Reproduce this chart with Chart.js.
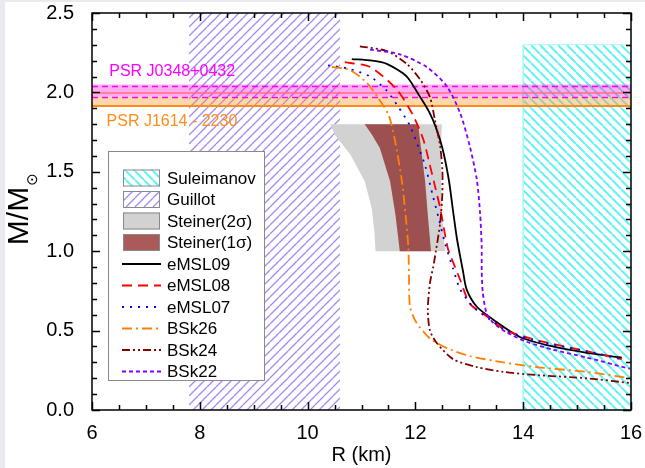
<!DOCTYPE html>
<html>
<head>
<meta charset="utf-8">
<script src="https://cdn.jsdelivr.net/npm/chart.js@4.4.0/dist/chart.umd.min.js"></script>
<style>
html,body{margin:0;padding:0;background:#fff;}
</style>
</head>
<body>
<canvas id="c" width="645" height="468" style="width:645px;height:468px;display:block"></canvas>
<script>
// mass-radius curves, R in km, M in solar masses
const eMSL09R=[10.82,11.2,11.47,11.84,12.09,12.25,12.38,12.5,12.62,12.7,12.77,12.84,12.88,12.95,13.14,13.44,13.94,14.55,15.18,15.83];
const eMSL09M=[2.21,2.20,2.18,2.10,1.97,1.88,1.78,1.65,1.45,1.25,1.08,0.95,0.88,0.76,0.65,0.57,0.46,0.40,0.36,0.33];

const eMSL08R=[10.69,11.16,11.65,11.95,12.15,12.27,12.37,12.46,12.6,12.7,12.83,13.01,13.32,13.69,14.25,15.18,15.83];
const eMSL08M=[2.19,2.16,2.02,1.86,1.70,1.54,1.40,1.27,1.02,0.93,0.82,0.67,0.59,0.50,0.44,0.37,0.32];

const eMSL07R=[10.38,10.75,11.16,11.47,11.68,11.9,12.05,12.18,12.33,12.43,12.55,12.7,12.83,13.07,13.38,13.69,14.18,15.18,15.83];
const eMSL07M=[2.17,2.15,2.10,2.01,1.91,1.79,1.66,1.54,1.34,1.21,1.05,0.89,0.76,0.65,0.57,0.50,0.44,0.37,0.32];

const BSk26R=[10.45,10.79,11.1,11.3,11.5,11.62,11.75,11.82,11.87,11.88,11.9,12.02,12.27,12.58,13.01,13.63,14.25,15.18,16.0];
const BSk26M=[2.16,2.14,2.06,1.97,1.86,1.70,1.44,1.22,1.02,0.85,0.65,0.55,0.45,0.39,0.34,0.30,0.27,0.24,0.20];

const BSk24R=[10.97,11.47,11.84,12.09,12.27,12.36,12.46,12.5,12.5,12.46,12.38,12.33,12.27,12.23,12.27,12.4,12.7,13.14,13.63,14.25,15.18,15.98];
const BSk24M=[2.29,2.26,2.18,2.08,1.97,1.83,1.66,1.51,1.36,1.18,1.0,0.90,0.80,0.63,0.50,0.42,0.32,0.27,0.24,0.22,0.20,0.17];

const BSk22R=[11.16,11.71,12.21,12.58,12.83,13.01,13.14,13.2,13.23,13.23,13.25,13.32,13.44,13.69,14.06,14.55,15.18,15.98];
const BSk22M=[2.27,2.24,2.16,2.04,1.87,1.66,1.45,1.24,1.03,0.88,0.74,0.61,0.55,0.49,0.43,0.38,0.33,0.26];

// constraint regions
const guillotR=[7.8,10.6,10.6,7.8,7.8];
const guillotM=[0,0,2.5,2.5,0];
const suleimanovR=[14,16,16,14,14];
const suleimanovM=[0,0,2.3,2.3,0];
const steiner2R=[10.42,12.49,12.47,12.5,12.55,11.26,11.24,11.19,11.06,10.79,10.51,10.42];
const steiner2M=[1.80,1.80,1.56,1.2,1.0,1.0,1.12,1.27,1.44,1.61,1.73,1.80];
const steiner1R=[11.06,12.05,12.18,12.23,12.29,11.71,11.63,11.53,11.34,11.2,11.06];
const steiner1M=[1.80,1.80,1.44,1.23,1.0,1.0,1.23,1.44,1.65,1.73,1.80];

// pulsar mass bands
const j0348Band=[1.975,2.05];
const j0348Dash=[1.968,2.037];
const j0348Line=1.996;
const j1614Band=[1.92,1.975];
const j1614Line=1.915;

const xRange=[6,16];
const yRange=[0,2.5];

const FONT="'Liberation Sans', Arial, sans-serif";

function pts(rs,ms){return rs.map((r,i)=>({x:r,y:ms[i]}));}
function hline(m){return [{x:xRange[0],y:m},{x:xRange[1],y:m}];}
function band(lo,hi){return [{x:xRange[0],y:lo},{x:xRange[1],y:lo},{x:xRange[1],y:hi},{x:xRange[0],y:hi},{x:xRange[0],y:lo}];}

const canvas=document.getElementById('c');
const ctx=canvas.getContext('2d');

function hatch(color,dir,size,lw){
const t=document.createElement('canvas');
t.width=size;t.height=size;
const g=t.getContext('2d');
g.strokeStyle=color;g.lineWidth=lw;
g.beginPath();
for(const o of [-size,0,size]){
if(dir==='/'){g.moveTo(o,size);g.lineTo(o+size,0);}
else{g.moveTo(o,0);g.lineTo(o+size,size);}
}
g.stroke();
return ctx.createPattern(t,'repeat');
}

const guillotPat=hatch('#a588f2','/',9,1.3);
const suleimanovPat=hatch('#66f2f2','\\',9,2);

const curves=[
{label:'eMSL09',r:eMSL09R,m:eMSL09M,color:'#000000',dash:[]},
{label:'eMSL08',r:eMSL08R,m:eMSL08M,color:'#ff0000',dash:[10,6]},
{label:'eMSL07',r:eMSL07R,m:eMSL07M,color:'#0000ff',dash:[2,6]},
{label:'BSk26',r:BSk26R,m:BSk26M,color:'#ff8000',dash:[10,4,2,4]},
{label:'BSk24',r:BSk24R,m:BSk24M,color:'#800000',dash:[8,3,2,3,2,3]},
{label:'BSk22',r:BSk22R,m:BSk22M,color:'#8000ff',dash:[4,3]}
];

const datasets=[];
datasets.push({label:'Guillot',data:pts(guillotR,guillotM),backgroundColor:guillotPat,borderWidth:0,borderColor:'rgba(0,0,0,0)',fill:'shape',order:20});
datasets.push({label:'Suleimanov',data:pts(suleimanovR,suleimanovM),backgroundColor:suleimanovPat,borderWidth:1,borderColor:'#aaf6f6',fill:'shape',order:20});
datasets.push({label:'J1614 band',data:band(j1614Band[0],j1614Band[1]),backgroundColor:'rgba(255,150,40,0.38)',borderWidth:0,borderColor:'rgba(0,0,0,0)',fill:'shape',order:19});
datasets.push({label:'J0348 band',data:band(j0348Band[0],j0348Band[1]),backgroundColor:'rgba(255,0,200,0.32)',borderWidth:0,borderColor:'rgba(0,0,0,0)',fill:'shape',order:18});
datasets.push({label:'J1614 line',data:hline(j1614Line),borderColor:'#ff8c1a',borderWidth:2,fill:false,order:17});
datasets.push({label:'J0348 line',data:hline(j0348Line),borderColor:'#ff6e8c',borderWidth:1.5,fill:false,order:17});
j0348Dash.forEach(m=>{
datasets.push({label:'J0348 dash',data:hline(m),borderColor:'#ff00ff',borderWidth:1.5,borderDash:[6,4],fill:false,order:17});
});
datasets.push({label:'Steiner(2\u03c3)',data:pts(steiner2R,steiner2M),backgroundColor:'#d2d2d2',borderWidth:0,borderColor:'rgba(0,0,0,0)',fill:'shape',order:16});
datasets.push({label:'Steiner(1\u03c3)',data:pts(steiner1R,steiner1M),backgroundColor:'#9c5050',borderWidth:0,borderColor:'rgba(0,0,0,0)',fill:'shape',order:15});
curves.forEach((c,i)=>{
datasets.push({label:c.label,data:pts(c.r,c.m),borderColor:c.color,borderWidth:1.8,borderDash:c.dash,fill:false,tension:0.25,order:10-i});
});

const legendItems=[
{text:'Suleimanov',type:'patch',fill:suleimanovPat},
{text:'Guillot',type:'patch',fill:guillotPat},
{text:'Steiner(2\u03c3)',type:'patch',fill:'#d2d2d2'},
{text:'Steiner(1\u03c3)',type:'patch',fill:'#ab5a5a'}
].concat(curves.map(c=>({text:c.label,type:'line',color:c.color,dash:c.dash})));

const bgPlugin={
id:'bg',
beforeDraw(chart){
const g=chart.ctx;
g.save();
g.fillStyle='#e8eaee';
g.fillRect(0,0,5,chart.height);
g.fillRect(0,0,chart.width,2);
g.restore();
}
};

const framePlugin={
id:'frame',
afterDatasetsDraw(chart){
const g=chart.ctx;
const a=chart.chartArea;
const xs=chart.scales.x,ys=chart.scales.y;
g.save();
g.strokeStyle='#000';
g.lineWidth=1.5;
g.setLineDash([]);
g.beginPath();
for(let v=xRange[0];v<=xRange[1]+1e-9;v+=0.5){
const px=Math.round(xs.getPixelForValue(v))+0.5;
const major=Math.abs(v/2-Math.round(v/2))<1e-6;
const len=major?8:5;
g.moveTo(px,a.bottom);g.lineTo(px,a.bottom-len);
g.moveTo(px,a.top);g.lineTo(px,a.top+len);
}
for(let k=0;k<=25;k++){
const v=k/10;
const py=Math.round(ys.getPixelForValue(v))+0.5;
const len=(k%5===0)?8:5;
g.moveTo(a.left,py);g.lineTo(a.left+len,py);
g.moveTo(a.right,py);g.lineTo(a.right-len,py);
}
g.stroke();
g.strokeRect(a.left,a.top,a.right-a.left,a.bottom-a.top);

// pulsar labels
g.font='16px '+FONT;
g.textBaseline='middle';
g.textAlign='left';
g.fillStyle='#ff00ff';
g.fillText('PSR J0348+0432',xs.getPixelForValue(6.32),ys.getPixelForValue(2.13));
g.fillStyle='#ff8c1a';
g.fillText('PSR J1614 - 2230',xs.getPixelForValue(6.27),ys.getPixelForValue(1.815));

// axis titles
g.fillStyle='#000';
g.font='20px '+FONT;
g.textAlign='center';
g.fillText('R (km)',(a.left+a.right)/2,455);
g.save();
g.translate(20,212);
g.rotate(-Math.PI/2);
g.font='30px '+FONT;
g.textAlign='center';
g.fillText('M/M',-4,0);
const w=g.measureText('M/M').width;
g.font='15px DejaVu Sans, '+FONT;
g.textAlign='left';
g.fillText('\u2299',-4+w/2+1,13);
g.restore();
g.restore();
}
};

const legendPlugin={
id:'customLegend',
afterDraw(chart){
const g=chart.ctx;
const box={x:108.5,y:151.5,w:156,h:229};
g.save();
g.fillStyle='#fff';
g.fillRect(box.x,box.y,box.w,box.h);
g.strokeStyle='#8a8a8a';
g.lineWidth=1;
g.strokeRect(box.x,box.y,box.w,box.h);
g.font='17px '+FONT;
g.textBaseline='middle';
g.textAlign='left';
legendItems.forEach((it,i)=>{
const cy=178+i*21.5;
if(it.type==='patch'){
g.fillStyle=it.fill;
g.fillRect(123,cy-8.5,37,17);
g.strokeStyle='#8a8a8a';
g.lineWidth=1;
g.setLineDash([]);
g.strokeRect(123.5,cy-8,36,16);
}else{
g.strokeStyle=it.color;
g.lineWidth=1.8;
g.setLineDash(it.dash);
g.beginPath();
g.moveTo(122,cy);g.lineTo(161,cy);
g.stroke();
g.setLineDash([]);
}
g.fillStyle='#000';
g.fillText(it.text,167,cy+1);
});
g.restore();
}
};

new Chart(canvas,{
type:'scatter',
data:{datasets:datasets},
options:{
responsive:false,
animation:false,
devicePixelRatio:1,
showLine:true,
layout:{autoPadding:false,padding:{left:0,top:13,right:14,bottom:0}},
elements:{point:{radius:0,hoverRadius:0},line:{tension:0}},
plugins:{legend:{display:false},tooltip:{enabled:false}},
scales:{
x:{
type:'linear',min:xRange[0],max:xRange[1],
grid:{display:false},
border:{display:false},
ticks:{stepSize:2,padding:3,color:'#000',font:{family:FONT,size:20},maxRotation:0},
afterFit(s){s.height=58;s.paddingLeft=0;s.paddingRight=0;}
},
y:{
type:'linear',min:yRange[0],max:yRange[1],
grid:{display:false},
border:{display:false},
ticks:{stepSize:0.5,padding:10,color:'#000',font:{family:FONT,size:20},callback:v=>v.toFixed(1)},
afterFit(s){s.width=92;s.paddingTop=0;s.paddingBottom=0;}
}
}
},
plugins:[bgPlugin,framePlugin,legendPlugin]
});
</script>
</body>
</html>
